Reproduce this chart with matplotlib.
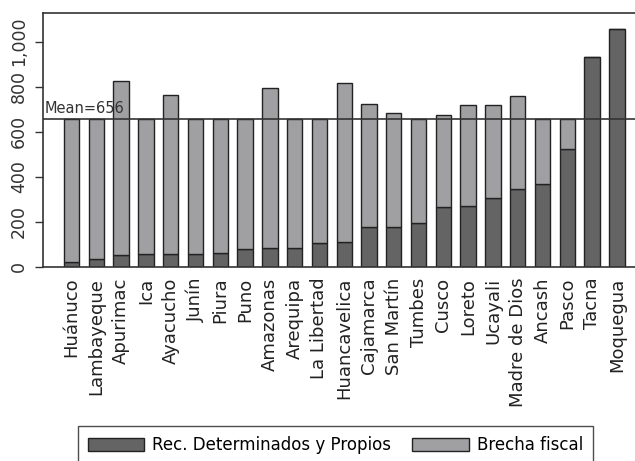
import matplotlib.pyplot as plt
import numpy as np

# Data
regions = ["Huánuco", "Lambayeque", "Apurimac", "Ica", "Ayacucho", "Junín", "Piura",
           "Puno", "Amazonas", "Arequipa", "La Libertad", "Huancavelica", "Cajamarca",
           "San Martín", "Tumbes", "Cusco", "Loreto", "Ucayali", "Madre de Dios",
           "Ancash", "Pasco", "Tacna", "Moquegua"]
recursos = [19, 32, 52, 55, 57, 57, 61, 80, 85, 85, 104, 108, 175, 178, 195, 266,
            270, 304, 347, 368, 524, 932, 1054]
brecha = [637, 624, 772, 601, 706, 599, 595, 576, 709, 571, 552, 708, 547, 503,
          461, 407, 447, 416, 410, 288, 132, 0, 0]
mean_value = 656

dark = "#646464"
light = "#a0a0a3"

fig = plt.figure(figsize=(6.35, 4.61), dpi=100)
ax = fig.add_axes([0.0677, 0.4215, 0.9323, 0.5503])

x = np.arange(len(regions))
ax.bar(x, recursos, width=0.62, color=dark, edgecolor="#222222", linewidth=1,
       label="Rec. Determinados y Propios")
ax.bar(x, brecha, width=0.62, bottom=recursos, color=light, edgecolor="#222222",
       linewidth=1, label="Brecha fiscal")

ax.axhline(mean_value, color="#333333", linewidth=1.2)
ax.text(-1.08, mean_value + 12, f"Mean={mean_value}", fontsize=10.5,
        color="#333333", va="bottom", ha="left")

ax.set_xlim(-1.15, 22.73)
ax.set_ylim(0, 1127)

ax.set_xticks(x)
ax.set_xticklabels(regions, rotation=90, fontsize=13, color="#222222")
ax.tick_params(axis="x", length=0, pad=8)

yticks = [0, 200, 400, 600, 800, 1000]
ax.set_yticks(yticks)
ax.set_yticklabels(["0", "200", "400", "600", "800", "1,000"], rotation=90,
                   va="center", fontsize=12.5, color="#333333")
ax.tick_params(axis="y", direction="out", length=6, width=1, pad=5,
               color="#333333")

for side in ["left", "bottom", "top"]:
    ax.spines[side].set_color("#333333")
    ax.spines[side].set_linewidth(1.2)
ax.spines["right"].set_visible(False)

leg = fig.legend(loc="upper center", bbox_to_anchor=(0.528, 0.076), ncol=2,
                 fontsize=12, frameon=True, fancybox=False, edgecolor="#222222",
                 handlelength=3.4, handleheight=0.8, handletextpad=0.45,
                 columnspacing=1.3, borderpad=0.6, borderaxespad=0)
leg.get_frame().set_linewidth(1)

fig.savefig("out.png", dpi=100)
